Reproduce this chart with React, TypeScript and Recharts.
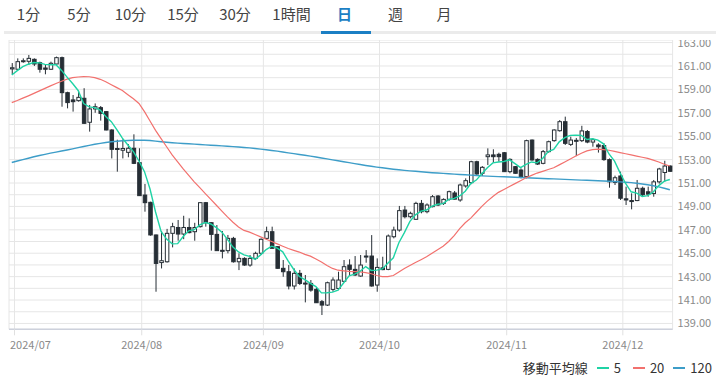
import { ComposedChart, Bar, Line, XAxis, YAxis, CartesianGrid } from 'recharts';

// USD/JPY daily, 2024/06/28 - 2024/12/12
const opens = [
  160.75, 160.72, 161.4, 161.4, 161.57, 161.28, 160.83, 160.72, 161.17, 161.71,
  158.72, 158.1, 158.04, 158.24, 156.19, 157.33, 157.44, 157.1, 155.53, 153.95,
  153.8, 153.62, 153.97, 152.74, 149.97, 149.35, 146.56, 144.2, 144.27, 146.7,
  147.2, 146.64, 147.2, 146.84, 147.27, 149.32, 147.61, 146.61, 145.25, 145.22,
  146.27, 144.27, 144.56, 143.99, 144.56, 145.0, 146.27, 146.84, 145.56, 143.71,
  143.42, 142.2, 143.28, 142.45, 142.42, 141.91, 140.86, 140.57, 141.91, 141.99,
  142.6, 143.99, 143.62, 143.05, 144.76, 144.76, 142.28, 143.75, 143.62, 146.41,
  146.98, 148.69, 148.12, 147.9, 149.26, 148.55, 148.98, 149.89, 149.26, 149.6,
  150.15, 149.55, 150.75, 151.03, 152.82, 151.83, 153.25, 153.4, 153.45, 153.59,
  151.97, 152.4, 152.11, 151.54, 154.67, 153.02, 152.68, 153.68, 154.62, 155.47,
  156.24, 154.3, 154.65, 154.62, 155.4, 154.5, 154.25, 154.2, 153.0, 151.05,
  151.6, 149.65, 149.5, 149.5, 150.55, 150.25, 150.1, 151.1, 151.9, 152.45,
];
const highs = [
  161.25, 161.65, 161.65, 161.94, 161.65, 161.37, 161.09, 161.37, 161.8, 161.8,
  158.8, 158.52, 158.9, 159.1, 157.67, 157.8, 157.58, 157.15, 155.6, 154.7,
  154.73, 154.33, 155.16, 153.97, 150.92, 149.4, 146.6, 146.9, 147.08, 147.6,
  147.84, 148.2, 147.98, 147.6, 149.35, 149.38, 147.65, 147.41, 146.9, 146.56,
  146.4, 144.99, 144.65, 144.85, 145.13, 146.27, 147.27, 147.27, 145.6, 144.42,
  143.99, 143.7, 143.57, 143.14, 142.71, 142.08, 141.0, 142.57, 142.94, 143.42,
  144.42, 144.48, 144.76, 144.85, 145.27, 146.55, 144.56, 144.7, 146.6, 147.27,
  149.04, 149.04, 148.55, 149.4, 149.55, 149.26, 149.97, 149.97, 149.69, 150.35,
  150.32, 150.95, 151.4, 152.9, 152.9, 152.45, 153.96, 153.88, 153.59, 153.65,
  153.11, 152.45, 152.25, 154.7, 154.72, 153.11, 153.82, 154.62, 155.59, 156.38,
  156.67, 154.96, 154.85, 155.89, 155.53, 154.82, 154.4, 154.4, 153.1, 151.63,
  151.97, 150.69, 150.12, 151.26, 150.69, 150.69, 151.26, 152.3, 152.9, 152.5,
];
const lows = [
  160.3, 160.65, 161.28, 161.09, 161.0, 160.43, 160.29, 160.66, 161.12, 157.52,
  157.38, 157.1, 157.95, 156.05, 155.39, 157.0, 156.33, 155.5, 153.1, 151.97,
  153.1, 153.2, 152.62, 149.9, 148.55, 146.5, 141.71, 143.7, 144.2, 145.5,
  146.07, 146.2, 146.7, 146.07, 147.2, 147.27, 145.22, 145.2, 144.56, 144.99,
  144.2, 143.56, 143.93, 143.85, 144.42, 144.85, 146.13, 145.4, 143.68, 142.99,
  141.91, 141.9, 142.28, 140.8, 141.71, 140.75, 139.72, 140.49, 141.71, 141.85,
  142.57, 143.14, 143.05, 142.99, 144.19, 142.14, 141.71, 143.55, 143.55, 146.27,
  146.84, 147.98, 147.98, 147.84, 148.41, 148.41, 148.92, 149.03, 149.12, 149.49,
  149.6, 149.4, 150.6, 150.9, 151.7, 151.6, 152.54, 152.74, 152.82, 151.95,
  151.83, 151.8, 151.4, 151.4, 152.9, 152.54, 152.6, 153.59, 154.53, 155.39,
  154.25, 154.16, 153.3, 154.5, 154.4, 154.1, 153.6, 152.9, 150.6, 150.83,
  149.55, 149.12, 148.75, 149.45, 149.83, 149.83, 149.83, 150.95, 151.1, 151.97,
];
const closes = [
  160.85, 161.37, 161.45, 161.65, 161.17, 160.72, 160.72, 161.23, 161.71, 158.72,
  157.87, 157.95, 158.32, 156.1, 157.33, 157.52, 156.95, 155.53, 153.88, 153.9,
  153.95, 153.97, 152.68, 149.92, 149.32, 146.56, 144.13, 144.36, 146.7, 147.27,
  146.64, 147.2, 146.76, 147.2, 149.32, 147.61, 146.61, 145.22, 145.22, 146.27,
  144.27, 144.56, 143.99, 144.56, 144.99, 146.19, 146.84, 145.42, 143.71, 143.42,
  142.2, 143.28, 142.42, 142.42, 141.85, 140.77, 140.57, 142.48, 142.71, 142.71,
  143.85, 143.62, 143.14, 143.99, 144.7, 142.2, 143.79, 143.6, 146.47, 146.98,
  148.64, 148.12, 148.41, 149.26, 148.55, 149.12, 149.83, 149.12, 149.6, 150.26,
  149.62, 150.83, 151.2, 152.82, 151.77, 152.34, 153.4, 153.25, 153.25, 151.97,
  153.02, 151.83, 151.54, 154.62, 152.97, 152.62, 153.68, 154.53, 155.53, 156.24,
  154.39, 154.67, 154.6, 155.45, 154.5, 154.7, 154.1, 153.0, 151.1, 151.45,
  149.7, 149.55, 149.45, 150.55, 150.0, 150.05, 151.1, 152.2, 152.45, 152.0,
];
const ma5 = [
  160.23, 160.6, 160.95, 161.15, 161.3, 161.27, 161.14, 161.1, 161.11, 160.62,
  160.05, 159.5, 158.91, 157.79, 157.51, 157.44, 157.24, 156.69, 156.24, 155.56,
  154.84, 154.25, 153.68, 152.88, 151.97, 150.49, 148.52, 146.86, 146.21, 145.8,
  145.82, 146.43, 146.91, 147.01, 147.42, 147.62, 147.5, 147.19, 146.8, 146.19,
  145.52, 145.11, 144.86, 144.73, 144.47, 144.86, 145.31, 145.6, 145.43, 145.12,
  144.32, 143.61, 143.01, 142.75, 142.43, 142.15, 141.61, 141.62, 141.68, 141.85,
  142.46, 143.07, 143.21, 143.46, 143.86, 143.53, 143.56, 143.66, 144.15, 144.61,
  145.9, 146.76, 147.72, 148.28, 148.6, 148.69, 149.03, 149.18, 149.24, 149.59,
  149.69, 149.89, 150.3, 150.95, 151.25, 151.79, 152.31, 152.72, 152.8, 152.84,
  152.98, 152.66, 152.32, 152.6, 152.8, 152.72, 153.09, 153.68, 153.87, 154.52,
  154.87, 155.07, 155.09, 155.07, 154.72, 154.78, 154.67, 154.35, 153.48, 152.87,
  151.87, 150.96, 150.25, 150.14, 149.85, 149.92, 150.23, 150.78, 151.16, 151.3,
];
const ma20 = [
  157.87, 158.05, 158.25, 158.45, 158.66, 158.87, 159.09, 159.3, 159.5, 159.7,
  159.88, 160.0, 160.06, 160.09, 160.08, 160.0, 159.86, 159.65, 159.4, 159.15,
  158.9, 158.55, 158.2, 157.8, 157.1, 156.3, 155.5, 154.8, 154.1, 153.4,
  152.8, 152.2, 151.65, 151.1, 150.6, 150.1, 149.6, 149.1, 148.6, 148.1,
  147.65, 147.25, 146.95, 146.8, 146.6, 146.4, 146.2, 146.0, 145.8, 145.6,
  145.4, 145.25, 145.1, 144.9, 144.75, 144.5, 144.25, 143.95, 143.7, 143.55,
  143.5, 143.45, 143.42, 143.4, 143.35, 143.25, 143.1, 143.0, 143.0, 143.1,
  143.4, 143.7, 143.95, 144.2, 144.45, 144.7, 145.0, 145.3, 145.6, 146.0,
  146.5, 147.1, 147.6, 148.0, 148.5, 149.0, 149.45, 149.85, 150.2, 150.45,
  150.7, 150.95, 151.2, 151.45, 151.65, 151.85, 152.0, 152.15, 152.3, 152.55,
  152.8, 153.05, 153.3, 153.55, 153.75, 153.85, 153.9, 153.85, 153.8, 153.7,
  153.6, 153.5, 153.4, 153.3, 153.2, 153.1, 152.95, 152.8, 152.6, 152.45,
];
const ma120 = [
  152.75, 152.88, 153.0, 153.12, 153.24, 153.35, 153.45, 153.55, 153.64, 153.73,
  153.82, 153.92, 154.02, 154.12, 154.22, 154.31, 154.39, 154.46, 154.52, 154.57,
  154.61, 154.63, 154.65, 154.66, 154.66, 154.63, 154.58, 154.53, 154.48, 154.44,
  154.41, 154.38, 154.35, 154.32, 154.29, 154.26, 154.23, 154.2, 154.17, 154.14,
  154.11, 154.08, 154.04, 154.0, 153.95, 153.9, 153.84, 153.78, 153.72, 153.65,
  153.58, 153.51, 153.44, 153.37, 153.3, 153.22, 153.14, 153.06, 152.98, 152.9,
  152.82, 152.74, 152.66, 152.58, 152.5, 152.43, 152.36, 152.3, 152.24, 152.18,
  152.13, 152.08, 152.04, 152.0, 151.96, 151.92, 151.88, 151.85, 151.82, 151.79,
  151.76, 151.73, 151.7, 151.67, 151.64, 151.61, 151.59, 151.57, 151.55, 151.53,
  151.51, 151.49, 151.47, 151.45, 151.43, 151.41, 151.39, 151.37, 151.35, 151.33,
  151.31, 151.29, 151.27, 151.25, 151.23, 151.21, 151.19, 151.17, 151.15, 151.13,
  151.1, 151.07, 151.03, 150.98, 150.92, 150.85, 150.77, 150.67, 150.55, 150.42,
];

const monthTicks = [0.5, 23.5, 45.5, 66.5, 89.5, 110.5];
const monthLabels = ['2024/07', '2024/08', '2024/09', '2024/10', '2024/11', '2024/12'];
const priceTicks = [139, 140, 141, 142, 143, 144, 145, 146, 147, 148, 149, 150, 151, 152, 153, 154, 155, 156, 157, 158, 159, 160, 161, 162, 163];
const tabs = ['1分', '5分', '10分', '15分', '30分', '1時間', '日', '週', '月'];
const tabCenters = [28.5, 79, 130.5, 183, 235, 291.5, 344.5, 395.5, 444];

const rows = closes.map((c, i) => ({
  i,
  o: opens[i],
  h: highs[i],
  l: lows[i],
  c,
  range: [lows[i], highs[i]],
  ma5: ma5[i],
  ma20: ma20[i],
  ma120: ma120[i],
}));

const DARK = '#262e35';
const FONT = '"Noto Sans CJK JP", "Noto Sans", sans-serif';

function Candle(props: any) {
  const { x, y, width, height, payload } = props;
  if (!payload || height == null) return null;
  const { o, h, l, c } = payload;
  const k = height / (h - l);
  const yo = y + (h - o) * k;
  const yc = y + (h - c) * k;
  const cx = x + width / 2;
  const top = Math.min(yo, yc);
  const bh = Math.max(Math.abs(yo - yc), 1);
  const up = c >= o;
  return (
    <g>
      <line x1={cx} x2={cx} y1={y} y2={y + height} stroke={DARK} strokeWidth={1} />
      <rect
        x={x + 0.5}
        y={top}
        width={width - 1}
        height={bh}
        fill={up ? '#fff' : DARK}
        stroke={DARK}
        strokeWidth={1}
      />
    </g>
  );
}

function MonthTick(props: any) {
  const { x, y, payload, index } = props;
  const label = monthLabels[monthTicks.indexOf(payload.value)];
  const first = index === 0;
  return (
    <text
      x={first ? x - 4.5 : x}
      y={y}
      dy={12}
      textAnchor={first ? 'start' : 'middle'}
      fill="#8a8a8a"
      fontSize={11}
      fontFamily={FONT}
    >
      {label}
    </text>
  );
}

function PriceTick(props: any) {
  const { x, y, payload } = props;
  if (payload.value % 2 === 0) return null;
  return (
    <text x={x + 5} y={y} dy={4} textAnchor="start" fill="#8a8a8a" fontSize={11} fontFamily={FONT}>
      {payload.value.toFixed(2)}
    </text>
  );
}

export default function App() {
  return (
    <div style={{ position: 'absolute', left: 0, top: 0, width: 716, height: 380, background: '#fff', fontFamily: FONT }}>
      {tabs.map((t, k) => (
        <div
          key={t}
          style={{
            position: 'absolute',
            top: 3,
            left: tabCenters[k] - 30,
            width: 60,
            textAlign: 'center',
            fontSize: 15,
            lineHeight: '22px',
            color: t === '日' ? '#1b7fc4' : '#444',
            fontWeight: t === '日' ? 700 : 400,
          }}
        >
          {t}
        </div>
      ))}
      <div style={{ position: 'absolute', left: 4, top: 31, width: 712, height: 3, background: '#ebebeb' }} />
      <div style={{ position: 'absolute', left: 321, top: 31, width: 50, height: 3, background: '#1b7fc4' }} />

      <div style={{ position: 'absolute', left: 0, top: 40, width: 716, height: 320, overflow: 'hidden' }}>
        <ComposedChart
          width={716}
          height={320}
          data={rows}
          margin={{ top: 0, right: 3.4, bottom: 0, left: 9 }}
        >
          <CartesianGrid stroke="#e6e6e6" strokeWidth={1} />
          <XAxis
            dataKey="i"
            type="number"
            domain={[-0.5, 119.5]}
            ticks={monthTicks}
            interval={0}
            height={30.7}
            tick={<MonthTick />}
            tickSize={6}
            tickMargin={2}
            tickLine={{ stroke: '#e0e0e0' }}
            axisLine={{ stroke: '#cdd1dc', strokeWidth: 1.5 }}
            allowDataOverflow
          />
          <YAxis
            orientation="right"
            type="number"
            domain={[138.5, 163.22]}
            ticks={priceTicks}
            interval={0}
            width={40}
            axisLine={false}
            tickLine={false}
            tickSize={0}
            tickMargin={0}
            tick={<PriceTick />}
            allowDataOverflow
          />
          <Bar dataKey="range" barSize={4.5} shape={<Candle />} isAnimationActive={false} />
          <Line dataKey="ma120" stroke="#3d9dc8" strokeWidth={1.4} dot={false} isAnimationActive={false} />
          <Line dataKey="ma20" stroke="#f2716e" strokeWidth={1.2} dot={false} isAnimationActive={false} />
          <Line dataKey="ma5" stroke="#1fd3a5" strokeWidth={1.4} dot={false} isAnimationActive={false} />
        </ComposedChart>
      </div>

      <div
        style={{
          position: 'absolute',
          right: 4,
          top: 359,
          fontSize: 13,
          lineHeight: '18px',
          color: '#333',
          display: 'flex',
          alignItems: 'center',
          whiteSpace: 'nowrap',
        }}
      >
        <span style={{ marginRight: 9 }}>移動平均線</span>
        <span style={{ display: 'inline-block', width: 12, height: 2, background: '#1fd3a5', marginRight: 5 }} />
        <span style={{ marginRight: 12 }}>5</span>
        <span style={{ display: 'inline-block', width: 12, height: 2, background: '#f2716e', marginRight: 5 }} />
        <span style={{ marginRight: 9 }}>20</span>
        <span style={{ display: 'inline-block', width: 12, height: 2, background: '#3d9dc8', marginRight: 5 }} />
        <span>120</span>
      </div>
    </div>
  );
}
